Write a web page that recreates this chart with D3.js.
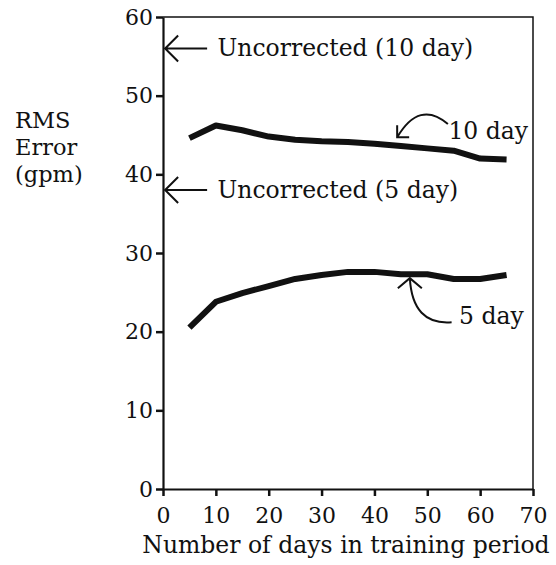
<!DOCTYPE html>
<html><head><meta charset="utf-8">
<style>
body { margin: 0; background: #fff; }
text { font-family: "DejaVu Serif", serif; fill: #111; }
</style>
</head><body>
<svg width="556" height="565"></svg>
<script src="https://cdn.jsdelivr.net/npm/d3@7"></script>
<script>

var days = [5, 10, 15, 20, 25, 30, 35, 40, 45, 50, 55, 60, 65];
var err10 = [44.6, 46.2, 45.6, 44.8, 44.4, 44.2, 44.1, 43.9, 43.6, 43.3, 43.0, 42.0, 41.9];
var err5 = [20.5, 23.8, 24.9, 25.8, 26.7, 27.2, 27.6, 27.6, 27.3, 27.3, 26.7, 26.7, 27.2];

var uncorrected = [
  {label: "Uncorrected (10 day)", value: 56.0},
  {label: "Uncorrected (5 day)", value: 38.0}
];

var xTicks = [0, 10, 20, 30, 40, 50, 60, 70];
var yTicks = [0, 10, 20, 30, 40, 50, 60];

var svg = d3.select("svg");

var x = d3.scaleLinear().domain([0, 70]).range([163, 533]);
var y = d3.scaleLinear().domain([0, 60]).range([489, 17]);

// frame (top and right)
svg.append("path")
    .attr("d", "M" + x(0) + "," + y(60) + "H" + x(70) + "V" + y(0))
    .attr("fill", "none")
    .attr("stroke", "#111")
    .attr("stroke-width", 1.5);

var xAxis = svg.append("g")
    .attr("transform", "translate(0," + y(0) + ")")
    .call(d3.axisBottom(x).tickValues(xTicks).tickSize(7).tickPadding(11).tickSizeOuter(0));

var yAxis = svg.append("g")
    .attr("transform", "translate(" + x(0) + ",0)")
    .call(d3.axisLeft(y).tickValues(yTicks).tickSize(7).tickPadding(3).tickSizeOuter(0));

[xAxis, yAxis].forEach(function(g) {
  g.select(".domain").attr("stroke", "#111").attr("stroke-width", 2.2);
  g.selectAll(".tick line").attr("stroke", "#111").attr("stroke-width", 2.5);
  g.selectAll(".tick text")
      .style("font-family", "DejaVu Serif, serif")
      .style("font-size", "22px")
      .attr("fill", "#111");
});

var line = d3.line()
    .x(function(d, i) { return x(days[i]); })
    .y(function(d) { return y(d); });

[err10, err5].forEach(function(s) {
  svg.append("path")
      .datum(s)
      .attr("d", line)
      .attr("fill", "none")
      .attr("stroke", "#111")
      .attr("stroke-width", 6)
      .attr("stroke-linejoin", "round");
});

// uncorrected markers
uncorrected.forEach(function(u) {
  var yy = y(u.value), x0 = x(0.4);
  svg.append("path")
      .attr("d", "M" + (x0 + 42) + "," + yy + "H" + x0 +
                 "M" + (x0 + 13) + "," + (yy - 13) + "L" + x0 + "," + yy + "L" + (x0 + 13) + "," + (yy + 13))
      .attr("fill", "none")
      .attr("stroke", "#111")
      .attr("stroke-width", 2);
  svg.append("text")
      .attr("x", x(10.3))
      .attr("y", yy + 8)
      .style("font-size", "23.5px")
      .text(u.label);
});

// annotation arrows
function curvedArrow(tip, ctrl, end, headA, headB) {
  var p = d3.path();
  p.moveTo(x(end[0]), y(end[1]));
  p.quadraticCurveTo(x(ctrl[0]), y(ctrl[1]), x(tip[0]), y(tip[1]));
  p.moveTo(x(tip[0]) + headA[0], y(tip[1]) + headA[1]);
  p.lineTo(x(tip[0]), y(tip[1]));
  p.lineTo(x(tip[0]) + headB[0], y(tip[1]) + headB[1]);
  svg.append("path")
      .attr("d", p.toString())
      .attr("fill", "none")
      .attr("stroke", "#111")
      .attr("stroke-width", 2);
}

curvedArrow([44.3, 44.7], [48.5, 49.5], [53.9, 46.4], [0, -12], [12, 0]);
svg.append("text").attr("x", x(54.0)).attr("y", y(44.5)).style("font-size", "23.5px").text("10 day");

curvedArrow([46.7, 26.8], [47.2, 20.8], [54.6, 21.2], [-12, 10], [12, 10]);
svg.append("text").attr("x", x(56.0)).attr("y", y(21.0)).style("font-size", "23.5px").text("5 day");

// axis titles
svg.append("text")
    .attr("x", 346)
    .attr("y", 553)
    .attr("text-anchor", "middle")
    .style("font-size", "23.5px")
    .text("Number of days in training period");

svg.append("text")
    .attr("x", 15)
    .attr("y", 128)
    .style("font-size", "22.5px")
    .selectAll("tspan")
    .data(["RMS", "Error", "(gpm)"])
    .join("tspan")
    .attr("x", 15)
    .attr("dy", function(d, i) { return i ? 27 : 0; })
    .text(function(d) { return d; });

</script>
</body></html>
